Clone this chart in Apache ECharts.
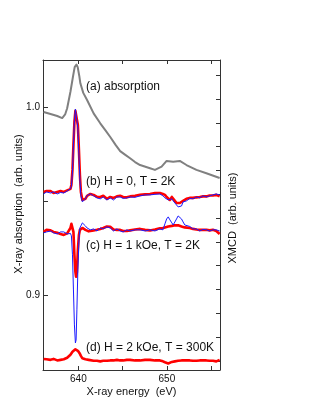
<!DOCTYPE html>
<html>
<head>
<meta charset="utf-8">
<script src="https://cdn.jsdelivr.net/npm/echarts@6/dist/echarts.min.js"></script>
<style>
html,body{margin:0;padding:0;background:#fff;}
#chart{width:314px;height:412px;}
</style>
</head>
<body>
<div id="chart"></div>
<script>
// X-ray energy (eV) grid shared by the XMCD-type curves
const energy = [636.07,636.40,636.85,637.19,637.61,637.98,638.35,638.73,638.91,639.10,
  639.21,639.33,639.44,639.55,639.66,639.74,639.83,639.94,640.06,640.17,
  640.28,640.45,640.60,640.79,640.98,641.16,641.35,641.72,642.10,642.47,
  642.81,643.22,643.60,643.97,644.35,644.72,645.06,645.47,645.84,646.40,
  646.97,647.53,648.09,648.65,649.21,649.55,649.78,649.97,650.15,650.34,
  650.56,650.71,650.90,651.09,651.27,651.46,651.65,651.83,652.02,652.21,
  652.58,652.96,653.34,653.71,654.08,654.46,654.83,655.20,655.58,655.79,655.96];

// (b) H = 0, T = 2K
const bRed = [0.9548,0.9553,0.9553,0.9542,0.9548,0.9553,0.9548,0.9556,0.9558,0.9564,
  0.9585,0.9665,0.9798,0.9920,0.9979,0.9989,0.9984,0.9904,0.9771,0.9638,
  0.9548,0.9505,0.9495,0.9511,0.9527,0.9532,0.9537,0.9532,0.9521,0.9521,
  0.9527,0.9511,0.9521,0.9516,0.9524,0.9527,0.9521,0.9519,0.9524,0.9527,
  0.9532,0.9535,0.9537,0.9542,0.9542,0.9537,0.9532,0.9521,0.9513,0.9505,
  0.9521,0.9516,0.9500,0.9489,0.9481,0.9489,0.9495,0.9500,0.9505,0.9511,
  0.9516,0.9516,0.9519,0.9521,0.9524,0.9524,0.9529,0.9529,0.9532,0.9535,0.9524];
const bBlue = [0.9537,0.9548,0.9542,0.9548,0.9537,0.9545,0.9542,0.9553,0.9553,0.9564,
  0.9580,0.9654,0.9798,0.9931,0.9989,0.9997,0.9984,0.9888,0.9745,0.9612,
  0.9527,0.9495,0.9489,0.9511,0.9529,0.9535,0.9537,0.9527,0.9516,0.9511,
  0.9521,0.9505,0.9516,0.9505,0.9521,0.9521,0.9513,0.9516,0.9521,0.9519,
  0.9527,0.9532,0.9532,0.9535,0.9537,0.9527,0.9516,0.9511,0.9505,0.9495,
  0.9511,0.9500,0.9489,0.9479,0.9468,0.9460,0.9473,0.9495,0.9497,0.9500,
  0.9513,0.9511,0.9521,0.9516,0.9527,0.9521,0.9527,0.9532,0.9537,0.9537,0.9532];

// (c) H = 1 kOe, T = 2K
const cRed = [0.9335,0.9346,0.9343,0.9335,0.9330,0.9324,0.9319,0.9327,0.9335,0.9356,
  0.9378,0.9383,0.9335,0.9213,0.9122,0.9096,0.9122,0.9239,0.9319,0.9346,
  0.9351,0.9356,0.9356,0.9346,0.9340,0.9338,0.9340,0.9343,0.9346,0.9351,
  0.9356,0.9364,0.9362,0.9348,0.9346,0.9346,0.9340,0.9340,0.9343,0.9348,
  0.9351,0.9346,0.9343,0.9348,0.9354,0.9356,0.9359,0.9362,0.9364,0.9367,
  0.9367,0.9367,0.9370,0.9372,0.9370,0.9364,0.9364,0.9362,0.9359,0.9356,
  0.9356,0.9351,0.9348,0.9346,0.9346,0.9346,0.9343,0.9346,0.9340,0.9338,0.9324];
const cBlue = [0.9330,0.9335,0.9340,0.9330,0.9324,0.9335,0.9335,0.9324,0.9330,0.9327,
  0.9314,0.9213,0.9026,0.8840,0.8744,0.8760,0.8920,0.9133,0.9292,0.9356,
  0.9367,0.9383,0.9388,0.9367,0.9356,0.9346,0.9346,0.9351,0.9340,0.9356,
  0.9351,0.9362,0.9356,0.9340,0.9351,0.9340,0.9335,0.9346,0.9340,0.9346,
  0.9346,0.9340,0.9346,0.9340,0.9351,0.9346,0.9378,0.9404,0.9415,0.9399,
  0.9383,0.9372,0.9388,0.9404,0.9420,0.9423,0.9404,0.9388,0.9372,0.9367,
  0.9364,0.9351,0.9351,0.9340,0.9348,0.9346,0.9340,0.9346,0.9346,0.9343,0.9340];

// (d) H = 2 kOe, T = 300K
const dRed = [0.8659,0.8657,0.8654,0.8659,0.8651,0.8654,0.8657,0.8665,0.8670,0.8681,
  0.8686,0.8697,0.8702,0.8707,0.8710,0.8710,0.8707,0.8702,0.8694,0.8686,
  0.8675,0.8662,0.8659,0.8657,0.8654,0.8654,0.8651,0.8649,0.8649,0.8646,
  0.8649,0.8649,0.8651,0.8651,0.8654,0.8651,0.8651,0.8654,0.8654,0.8651,
  0.8651,0.8654,0.8654,0.8651,0.8651,0.8646,0.8641,0.8638,0.8635,0.8641,
  0.8643,0.8643,0.8646,0.8646,0.8649,0.8649,0.8651,0.8651,0.8651,0.8651,
  0.8651,0.8649,0.8649,0.8651,0.8651,0.8651,0.8649,0.8649,0.8646,0.8649,0.8654];

// (a) absorption
const absEnergy = [636.07,636.85,637.61,638.17,638.50,638.73,639.10,639.40,639.58,639.78,639.92,
  640.10,640.22,640.55,640.98,641.72,642.47,643.10,643.60,644.20,644.72,645.30,645.84,646.40,
  646.97,648.09,648.65,649.40,649.97,650.71,651.46,652.21,653.34,654.46,655.96];
const absValue = [0.9973,0.9963,0.9952,0.9941,0.9960,0.9993,1.0081,1.0165,1.0212,1.0226,1.0212,
  1.0165,1.0126,1.0075,1.0037,0.9966,0.9913,0.9873,0.9840,0.9798,0.9765,0.9745,0.9727,0.9707,
  0.9691,0.9674,0.9665,0.9682,0.9713,0.9709,0.9713,0.9691,0.9665,0.9647,0.9622];

const xTicks = [640, 645, 650, 655];
const xLabels = [640, 650];
const yTicks = [0.9, 0.95, 1.0];
const yLabels = [0.9, 1.0];
const rightTicks = [0,1,2,3,4,5,6,7,8,9,10,11,12];

const pair = (xs, ys) => xs.map((x, i) => [x, ys[i]]);
const FONT = 'Liberation Sans, Arial, sans-serif';
const AX = '#333';

const chart = echarts.init(document.getElementById('chart'), null, {renderer: 'canvas'});
const lineSeries = (name, data, color, width, z) => ({
  name, type: 'line', data, showSymbol: false, symbol: 'none', smooth: false,
  lineStyle: {color, width, join: 'round'}, z, xAxisIndex: 0, yAxisIndex: 0, animation: false
});

chart.setOption({
  animation: false,
  backgroundColor: '#fff',
  grid: {left: 43, right: 94, top: 60, bottom: 42, containLabel: false},
  xAxis: [{
    type: 'value', min: 636, max: 656, position: 'bottom',
    axisLine: {show: true, onZero: false, lineStyle: {color: AX, width: 1}},
    axisTick: {show: true, inside: true, length: 4, customValues: xTicks, lineStyle: {color: AX}},
    axisLabel: {show: true, customValues: xLabels, margin: 4, color: '#111', fontSize: 10, fontFamily: FONT},
    splitLine: {show: false}
  }, {
    type: 'value', min: 636, max: 656, position: 'top',
    axisLine: {show: true, onZero: false, lineStyle: {color: AX, width: 1}},
    axisTick: {show: true, inside: true, length: 4, customValues: xTicks, lineStyle: {color: AX}},
    axisLabel: {show: false},
    splitLine: {show: false}
  }],
  yAxis: [{
    type: 'value', min: 0.86, max: 1.025, position: 'left',
    axisLine: {show: true, onZero: false, lineStyle: {color: AX, width: 1}},
    axisTick: {show: true, inside: true, length: 5, customValues: yTicks, lineStyle: {color: AX}},
    axisLabel: {show: true, customValues: yLabels, margin: 3, color: '#111', fontSize: 10, fontFamily: FONT,
      formatter: v => Number(v).toFixed(1)},
    splitLine: {show: false}
  }, {
    type: 'value', min: -0.387, max: 12.64, position: 'right',
    axisLine: {show: true, onZero: false, lineStyle: {color: AX, width: 1}},
    axisTick: {show: true, inside: true, length: 4, customValues: rightTicks, lineStyle: {color: AX}},
    axisLabel: {show: false},
    splitLine: {show: false}
  }],
  series: [
    lineSeries('(a) absorption', pair(absEnergy, absValue), '#808080', 2, 2),
    lineSeries('(b) red', pair(energy, bRed), '#ff0000', 2.6, 3),
    lineSeries('(b) blue', pair(energy, bBlue), '#1a1aff', 1, 4),
    lineSeries('(c) red', pair(energy, cRed), '#ff0000', 2.6, 3),
    lineSeries('(c) blue', pair(energy, cBlue), '#1a1aff', 1, 4),
    lineSeries('(d) red', pair(energy, dRed), '#ff0000', 2.6, 3)
  ],
  graphic: [
    {type: 'text', left: 86, top: 81, style: {text: '(a) absorption', font: '12px ' + FONT, fill: '#111'}},
    {type: 'text', left: 86, top: 176, style: {text: '(b) H = 0, T = 2K', font: '12px ' + FONT, fill: '#111'}},
    {type: 'text', left: 86, top: 240, style: {text: '(c) H = 1 kOe, T = 2K', font: '12px ' + FONT, fill: '#111'}},
    {type: 'text', left: 86, top: 342, style: {text: '(d) H = 2 kOe, T = 300K', font: '12px ' + FONT, fill: '#111'}},
    {type: 'text', x: 131.5, y: 392, style: {text: 'X-ray energy  (eV)', font: '11px ' + FONT, fill: '#111', align: 'center', verticalAlign: 'middle'}},
    {type: 'text', x: 19, y: 204, rotation: Math.PI / 2, style: {text: 'X-ray absorption  (arb. units)', font: '11px ' + FONT, fill: '#111', align: 'center', verticalAlign: 'middle'}},
    {type: 'text', x: 233, y: 218, rotation: Math.PI / 2, style: {text: 'XMCD  (arb. units)', font: '11px ' + FONT, fill: '#111', align: 'center', verticalAlign: 'middle'}}
  ]
});
</script>
</body>
</html>
